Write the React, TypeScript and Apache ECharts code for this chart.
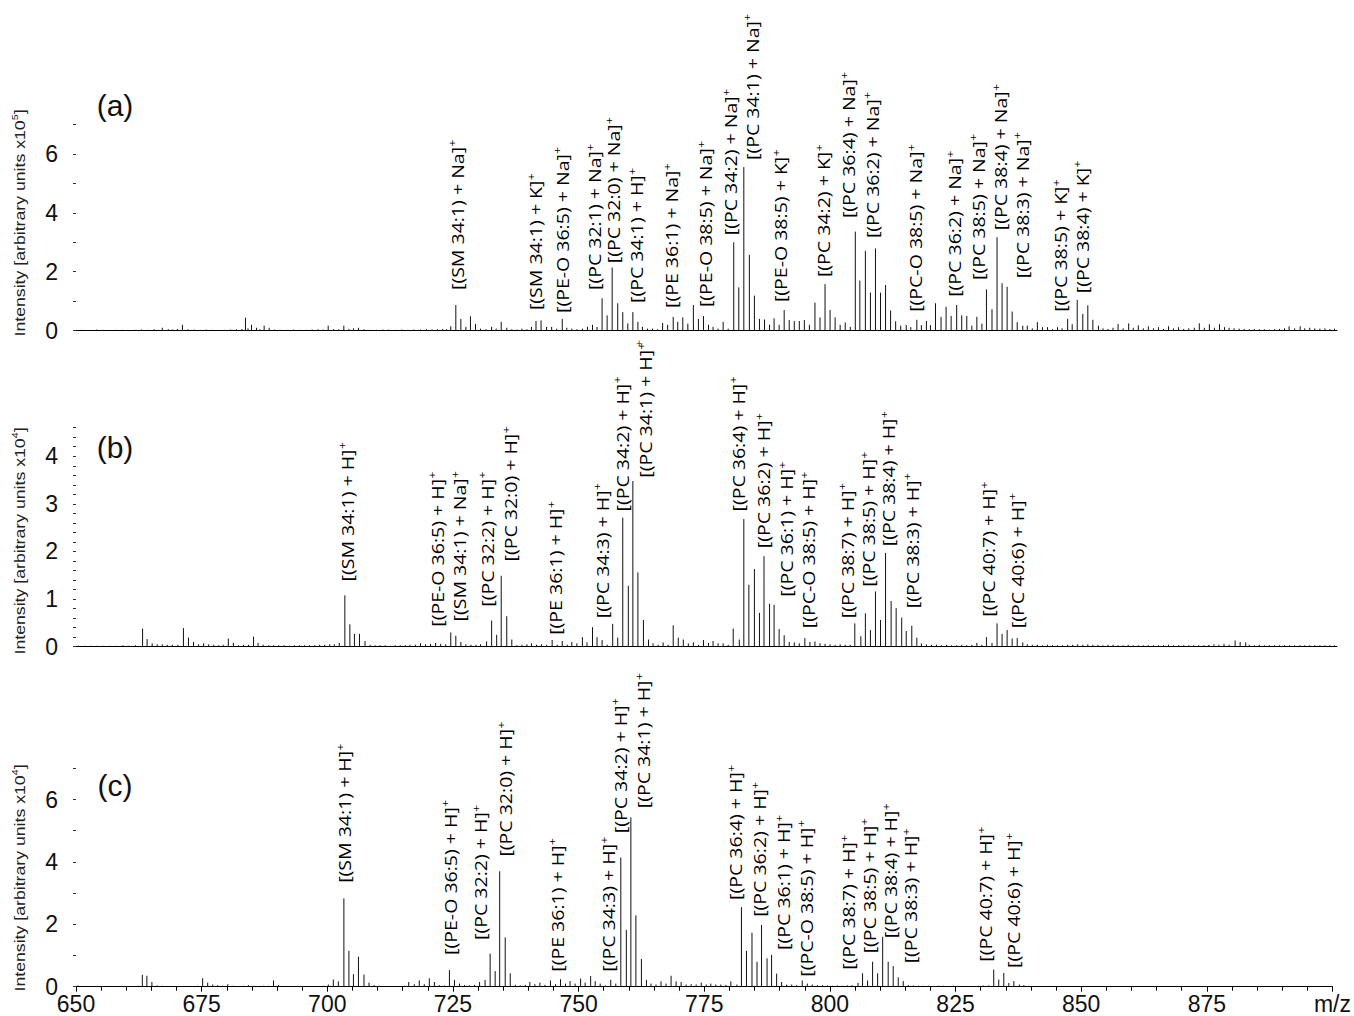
import React, { useEffect, useRef } from "react";
import * as echarts from "echarts";

// ---------- data ----------
const MZ_MIN = 650;
const MZ_MAX = 900;
const MZ_STEP = 25;

// panel (a): [m/z, intensity x10^5]
const peaksA: number[][] = [
  [651.2,0.03],[652.8,0.02],[654.1,0.04],[655.3,0.03],[656.6,0.02],[657.9,0.03],[659.2,0.03],[660.4,0.02],[661.7,0.03],[663.0,0.04],[664.2,0.03],[665.5,0.05],[667.1,0.1],[668.3,0.05],[669.2,0.04],[670.1,0.06],[671.1,0.2],[672.2,0.05],[673.4,0.04],[674.6,0.03],[675.8,0.04],[677.0,0.03],[678.2,0.02],[679.4,0.03],[680.6,0.04],[681.8,0.05],[682.9,0.06],[683.6,0.44],[684.1,0.08],[684.8,0.2],[685.8,0.1],[686.5,0.05],[687.3,0.17],[688.3,0.1],[689.4,0.04],[690.6,0.03],[691.8,0.03],[693.1,0.04],[694.3,0.03],[695.6,0.03],[696.8,0.04],[698.0,0.05],[699.0,0.04],[700.0,0.17],[701.1,0.06],[702.1,0.05],[703.1,0.17],[704.1,0.06],[705.0,0.08],[706.0,0.1],[707.1,0.05],[708.3,0.03],[709.6,0.03],[710.8,0.04],[712.0,0.04],[713.3,0.03],[714.6,0.04],[715.8,0.03],[717.0,0.04],[718.3,0.04],[719.5,0.05],[720.6,0.04],[721.7,0.05],[722.7,0.06],[723.5,0.05],[724.3,0.15],
  [725.3,0.87],[726.3,0.4],[727.3,0.13],[728.2,0.49],[729.2,0.23],[730.2,0.07],[731.3,0.05],[732.4,0.13],[733.3,0.07],[734.3,0.3],[735.4,0.1],[736.4,0.05],[737.4,0.04],[738.4,0.07],[739.4,0.05],[740.3,0.13],[741.2,0.33],[742.2,0.35],[743.3,0.13],[744.3,0.13],[745.3,0.07],[746.4,0.4],[747.3,0.1],[748.3,0.07],[749.3,0.05],[750.4,0.07],[751.4,0.13],[752.4,0.2],[753.3,0.13],[754.3,1.1],[755.3,0.52],[756.3,2.14],[757.4,0.93],[758.4,0.63],[759.4,0.25],[760.4,0.63],[761.4,0.3],[762.3,0.13],[763.3,0.07],[764.3,0.07],[765.3,0.05],[766.3,0.26],[767.3,0.2],[768.4,0.47],[769.3,0.3],[770.3,0.45],[771.3,0.24],[772.4,0.87],[773.4,0.4],[774.4,0.5],[775.4,0.2],[776.3,0.13],[777.3,0.07],[778.3,0.3],[779.3,0.07],[780.4,3.0],[781.4,1.47],[782.4,5.55],[783.5,2.57],[784.5,1.19],[785.5,0.4],[786.5,0.38],[787.5,0.2],[788.4,0.42],[789.4,0.2],[790.4,0.7],[791.4,0.36],[792.4,0.33],[793.4,0.33],[794.4,0.36],[795.4,0.2],[796.5,0.95],[797.5,0.45],[798.5,1.58],[799.5,0.7],[800.5,0.45],[801.5,0.2],[802.5,0.28],[803.5,0.13],[804.5,3.36],[805.4,1.7],[806.5,2.71],[807.5,1.29],[808.5,2.79],[809.5,1.29],[810.5,1.55],[811.5,0.68],[812.5,0.32],[813.5,0.17],[814.6,0.19],[815.5,0.12],[816.7,0.37],[817.6,0.19],[818.6,0.33],[819.4,0.19],[820.4,0.93],[821.5,0.47],[822.5,0.81],[823.5,0.5],[824.6,0.87],[825.6,0.52],[826.6,0.5],[827.6,0.17],[828.6,0.47],[829.6,0.24],[830.5,1.4],[831.6,0.73],[832.6,3.17],[833.6,1.61],[834.6,1.49],[835.6,0.65],[836.6,0.29],[837.7,0.17],[838.6,0.17],[839.6,0.08],[840.6,0.29],[841.6,0.12],[842.6,0.12],[843.6,0.05],[844.6,0.12],[845.5,0.08],[846.6,0.4],[847.5,0.22],[848.5,1.04],[849.6,0.57],[850.6,0.86],[851.6,0.37],[852.7,0.17],
  [853.6,0.08],[854.6,0.06],[855.6,0.1],[856.6,0.23],[857.6,0.08],[858.7,0.25],[859.6,0.1],[860.6,0.18],[861.6,0.08],[862.6,0.15],[863.6,0.08],[864.6,0.12],[865.6,0.06],[866.6,0.15],[867.6,0.08],[868.6,0.12],[869.6,0.06],[870.6,0.08],[871.7,0.1],[872.7,0.25],[873.7,0.1],[874.7,0.22],[875.7,0.1],[876.7,0.22],[877.7,0.12],[878.6,0.1],[879.6,0.08],[880.6,0.07],[881.6,0.06],[882.6,0.05],[883.6,0.06],[884.6,0.05],[885.6,0.05],[886.6,0.04],[887.6,0.05],[888.6,0.06],[889.6,0.08],[890.5,0.15],[891.6,0.08],[892.7,0.15],[893.6,0.08],[894.6,0.1],[895.6,0.08],[896.6,0.07],[897.6,0.08],[898.6,0.06],[899.5,0.07]
];

// panel (b): [m/z, intensity x10^4]
const peaksB: number[][] = [
  [650.5,0.02],[651.7,0.02],[653.0,0.02],[654.2,0.02],[655.5,0.02],[656.8,0.02],[658.0,0.02],[659.3,0.03],[660.5,0.02],[661.8,0.03],[663.2,0.38],[664.1,0.16],[665.1,0.07],[666.1,0.05],[667.1,0.05],[668.1,0.04],[669.1,0.04],[670.2,0.04],[671.3,0.39],[672.3,0.19],[673.3,0.1],[674.3,0.05],[675.3,0.07],[676.3,0.05],[677.3,0.04],[678.3,0.03],[679.2,0.04],[680.2,0.17],[681.2,0.08],[682.2,0.03],[683.2,0.04],[684.2,0.04],[685.2,0.21],[686.1,0.08],[687.1,0.04],[688.2,0.03],[689.2,0.03],[690.2,0.03],[691.3,0.03],[692.3,0.02],[693.3,0.03],[694.3,0.03],[695.3,0.03],[696.3,0.03],[697.3,0.03],[698.3,0.04],[699.3,0.04],[700.3,0.05],[701.2,0.05],[702.2,0.08],
  [703.3,1.08],[704.3,0.47],[705.2,0.27],[706.2,0.27],[707.3,0.12],[708.3,0.04],[709.3,0.03],[710.3,0.03],[711.3,0.03],[712.3,0.02],[713.3,0.03],[714.3,0.03],[715.3,0.03],[716.2,0.04],[717.3,0.04],[718.3,0.07],[719.3,0.05],[720.3,0.06],[721.3,0.08],[722.3,0.06],[723.3,0.05],[724.3,0.3],[725.3,0.23],[726.3,0.1],[727.3,0.05],[728.3,0.04],[729.3,0.04],[730.2,0.05],[731.4,0.11],[732.4,0.55],[733.4,0.25],[734.3,1.49],[735.4,0.64],[736.4,0.15],[737.4,0.03],[738.4,0.04],[739.4,0.05],[740.3,0.07],[741.3,0.04],[742.3,0.05],[743.3,0.04],[744.4,0.14],[745.4,0.04],[746.4,0.12],[747.4,0.04],[748.3,0.1],[749.3,0.07],[750.4,0.2],[751.3,0.09],[752.4,0.41],[753.3,0.2],[754.3,0.14],[755.3,0.04],[756.4,0.48],[757.4,0.19],[758.4,2.71],[759.5,1.28],[760.4,3.48],[761.4,1.56],[762.5,0.56],[763.5,0.15],[764.4,0.07],[765.4,0.04],[766.4,0.09],[767.4,0.04],[768.4,0.45],[769.4,0.19],[770.4,0.15],[771.4,0.07],[772.4,0.09],[773.4,0.04],[774.4,0.14],[775.4,0.08],[776.3,0.12],[777.3,0.07],[778.3,0.07],[779.3,0.04],[780.3,0.38],[781.5,0.15],[782.4,2.68],[783.4,1.3],[784.5,1.63],[785.5,0.71],[786.4,1.9],[787.5,0.9],[788.4,0.88],[789.4,0.37],[790.4,0.24],[791.4,0.1],[792.4,0.09],[793.4,0.07],[794.5,0.18],[795.5,0.1],[796.5,0.11],[797.5,0.07],[798.5,0.06],[799.5,0.05],[800.5,0.04],[801.5,0.05],[802.5,0.04],[803.5,0.04],[804.4,0.49],[805.6,0.22],[806.5,0.7],[807.5,0.35],[808.5,1.16],[809.5,0.56],[810.5,1.97],[811.6,0.96],[812.6,0.81],[813.7,0.61],[814.6,0.33],[815.7,0.44],[816.7,0.19],[817.6,0.07],[818.6,0.05],[819.6,0.04],[820.6,0.04],[821.6,0.03],[822.6,0.04],[823.6,0.03],[824.6,0.03],[825.6,0.04],[826.6,0.03],[827.6,0.04],[828.6,0.08],[829.6,0.04],[830.5,0.2],[831.6,0.08],[832.6,0.49],[833.6,0.27],[834.6,0.35],[835.6,0.17],[836.6,0.18],[837.7,0.09],[838.6,0.05],[839.6,0.04],[840.6,0.04],[841.6,0.03],[842.6,0.04],[843.6,0.03],[844.6,0.03],[845.6,0.03],[846.6,0.04],[847.6,0.04],[848.6,0.05],[849.6,0.04],[850.6,0.05],[851.6,0.04],[852.6,0.04],[853.6,0.03],[854.6,0.04],[855.6,0.04],[856.6,0.03],[857.6,0.03],[858.6,0.04],[859.6,0.03],[860.6,0.03],[861.6,0.03],[862.6,0.03],[863.6,0.03],[864.6,0.03],[865.6,0.03],[866.6,0.04],[867.6,0.03],[868.6,0.03],[869.6,0.03],[870.6,0.03],[871.6,0.03],[872.6,0.03],[873.6,0.03],[874.6,0.04],[875.6,0.05],[876.6,0.04],[877.6,0.06],[878.6,0.04],[879.8,0.13],[880.8,0.1],[881.9,0.09],[882.6,0.04],[883.6,0.03],[884.6,0.04],[885.6,0.03],[886.6,0.03],[887.6,0.03],[888.6,0.03],[889.6,0.03],[890.6,0.03],[891.6,0.03],[892.6,0.03],[893.6,0.03],[894.6,0.03],[895.6,0.03],[896.6,0.03],[897.6,0.03],[898.6,0.03],[899.5,0.03]
];

// panel (c): [m/z, intensity x10^4]
const peaksC: number[][] = [
  [650.4,0.04],[651.6,0.02],[652.8,0.02],[654.0,0.02],[655.3,0.02],[656.5,0.02],[657.8,0.02],[659.0,0.02],[660.3,0.02],[661.5,0.02],[662.5,0.03],[663.2,0.38],[664.1,0.35],[665.1,0.15],[666.1,0.04],[667.2,0.03],[668.4,0.02],[669.6,0.02],[670.8,0.02],[672.0,0.02],[673.2,0.02],[674.2,0.03],[675.2,0.27],[676.2,0.13],[677.2,0.07],[678.2,0.05],[679.2,0.03],[680.2,0.08],[681.2,0.03],[682.3,0.02],[683.3,0.03],[684.3,0.05],[685.3,0.02],[686.3,0.02],[687.3,0.03],[688.3,0.03],[689.3,0.2],[690.3,0.05],[691.3,0.02],[692.3,0.02],[693.3,0.02],[694.3,0.02],[695.3,0.02],[696.3,0.02],[697.3,0.02],[698.3,0.02],[699.3,0.03],[700.2,0.07],[701.2,0.23],[702.2,0.17],
  [703.3,2.83],[704.3,1.15],[705.2,0.4],[706.2,0.96],[707.3,0.39],[708.3,0.13],[709.3,0.05],[710.3,0.03],[711.3,0.02],[712.3,0.02],[713.3,0.02],[714.3,0.02],[715.3,0.03],[716.2,0.15],[717.3,0.08],[718.3,0.2],[719.3,0.08],[720.3,0.27],[721.3,0.15],[722.3,0.05],[723.3,0.04],[724.3,0.53],[725.3,0.22],[726.3,0.1],[727.3,0.05],[728.3,0.04],[729.3,0.06],[730.3,0.15],[731.4,0.22],[732.4,1.06],[733.4,0.5],[734.3,3.7],[735.4,1.58],[736.4,0.43],[737.4,0.06],[738.4,0.04],[739.4,0.06],[740.3,0.15],[741.3,0.08],[742.3,0.13],[743.3,0.06],[744.4,0.2],[745.4,0.08],[746.4,0.24],[747.4,0.1],[748.3,0.18],[749.3,0.1],[750.4,0.26],[751.3,0.13],[752.4,0.34],[753.3,0.18],[754.3,0.1],[755.3,0.04],[756.4,0.22],[757.4,0.1],[758.4,4.14],[759.5,1.82],[760.4,5.43],[761.4,2.29],[762.5,0.89],[763.5,0.22],[764.4,0.1],[765.4,0.07],[766.4,0.17],[767.4,0.1],[768.4,0.35],[769.4,0.17],[770.4,0.15],[771.4,0.07],[772.4,0.08],[773.4,0.07],[774.4,0.13],[775.4,0.07],[776.3,0.1],[777.3,0.07],[778.3,0.07],[779.3,0.06],[780.3,0.17],[781.5,0.07],[782.4,2.55],[783.4,1.15],[784.5,1.73],[785.5,0.8],[786.4,1.98],[787.5,0.91],[788.4,1.02],[789.4,0.42],[790.4,0.15],[791.4,0.07],[792.4,0.07],[793.4,0.05],[794.5,0.2],[795.5,0.1],[796.5,0.07],[797.5,0.05],[798.5,0.05],[799.5,0.04],[800.5,0.03],[801.5,0.04],[802.5,0.03],[803.5,0.04],[804.4,0.05],[805.6,0.12],[806.5,0.43],[807.5,0.2],[808.5,0.8],[809.5,0.43],[810.5,1.6],[811.6,0.8],[812.6,0.66],[813.6,0.3],[814.6,0.18],[815.6,0.05],[816.6,0.04],[817.6,0.03],[818.6,0.03],[819.6,0.03],[820.6,0.02],[821.6,0.03],[822.6,0.03],[823.6,0.02],[824.6,0.03],[825.6,0.02],[826.6,0.02],[827.6,0.02],[828.6,0.02],[829.6,0.03],[830.5,0.04],[831.6,0.04],[832.6,0.55],[833.6,0.23],[834.6,0.44],[835.6,0.12],[836.6,0.18],[837.7,0.07],[838.6,0.05],[839.6,0.03],[840.6,0.02],[842.6,0.02],[845.6,0.02],[848.6,0.02],[851.6,0.02],[854.6,0.02],[857.6,0.02],[860.6,0.02],[864.6,0.02],[868.6,0.02],[872.6,0.02],[876.6,0.02],[880.6,0.02],[884.6,0.02],[888.6,0.02],[892.6,0.02],[896.6,0.02]
];

// annotation texts (each followed by a superscript "+") and their anchors [m/z, intensity]
const namesA = ["[(SM 34:1) + Na]","[(SM 34:1) + K]","[(PE-O 36:5) + Na]","[(PC 32:1) + Na]","[(PC 32:0) + Na]","[(PC 34:1) + H]","[(PE 36:1) + Na]","[(PE-O 38:5) + Na]","[(PC 34:2) + Na]","[(PC 34:1) + Na]","[(PE-O 38:5) + K]","[(PC 34:2) + K]","[(PC 36:4) + Na]","[(PC 36:2) + Na]","[(PC-O 38:5) + Na]","[(PC 36:2) + Na]","[(PC 38:5) + Na]","[(PC 38:4) + Na]","[(PC 38:3) + Na]","[(PC 38:5) + K]","[(PC 38:4) + K]"];
const labelMzA = [725.48,741.0,746.29,752.7,756.52,761.02,767.96,774.7,779.66,783.96,789.57,798.16,803.11,807.75,816.34,824.07,828.77,833.19,837.49,845.09,849.39];
const labelYA = [1.38,0.7,0.6,1.38,2.29,0.94,0.77,0.8,3.24,5.79,0.97,1.82,3.82,3.14,0.64,1.15,1.72,3.41,1.78,0.64,1.27];

const namesB = ["[(SM 34:1) + H]","[(PE-O 36:5) + H]","[(SM 34:1) + Na]","[(PC 32:2) + H]","[(PC 32:0) + H]","[(PE 36:1) + H]","[(PC 34:3) + H]","[(PC 34:2) + H]","[(PC 34:1) + H]","[(PC 36:4) + H]","[(PC 36:2) + H]","[(PC 36:1) + H]","[(PC-O 38:5) + H]","[(PC 38:7) + H]","[(PC 38:5) + H]","[(PC 38:4) + H]","[(PC 38:3) + H]","[(PC 40:7) + H]","[(PC 40:6) + H]"];
const labelMzB = [703.67,721.51,725.93,731.42,736.04,744.97,754.22,758.19,762.81,781.19,786.27,790.77,795.19,802.8,807.08,811.05,815.67,830.87,836.5];
const labelYB = [1.37,0.42,0.53,0.84,1.79,0.25,0.6,2.84,3.55,2.84,2.07,1.05,0.39,0.6,1.26,2.11,0.81,0.63,0.39];

const namesC = ["[(SM 34:1) + H]","[(PE-O 36:5) + H]","[(PC 32:2) + H]","[(PC 32:0) + H]","[(PE 36:1) + H]","[(PC 34:3) + H]","[(PC 34:2) + H]","[(PC 34:1) + H]","[(PC 36:4) + H]","[(PC 36:2) + H]","[(PC 36:1) + H]","[(PC-O 38:5) + H]","[(PC 38:7) + H]","[(PC 38:5) + H]","[(PC 38:4) + H]","[(PC 38:3) + H]","[(PC 40:7) + H]","[(PC 40:6) + H]"];
const labelMzC = [703.33,724.35,730.43,735.39,745.62,755.87,758.19,762.81,781.19,785.93,790.77,795.19,803.59,807.75,812.03,816.0,830.87,836.5];
const labelYC = [3.33,1.02,1.5,4.17,0.48,0.48,4.92,5.72,2.78,2.24,1.18,0.32,0.54,1.07,1.55,0.75,0.8,0.6];

const yMax = [7, 4.6, 7];
const yStep = [1, 0.2, 1];
const panelTags = ["(a)", "(b)", "(c)"];
const yExponent = ["5", "4", "4"];

// ---------- chart ----------
const LABEL_FONT = "'Open Sans', 'Noto Sans', sans-serif";
const AXIS_FONT = "'Liberation Sans', Arial, sans-serif";

function stickSeries(data: number[][], idx: number) {
  return {
    type: "custom",
    xAxisIndex: idx,
    yAxisIndex: idx,
    clip: false,
    silent: true,
    data,
    encode: { x: 0, y: 1 },
    renderItem: (params: any, api: any) => {
      const mz = api.value(0);
      const v = api.value(1);
      const p0 = api.coord([mz, 0]);
      const p1 = api.coord([mz, v]);
      return {
        type: "line",
        shape: { x1: p0[0], y1: p0[1], x2: p1[0], y2: p1[1] },
        style: { stroke: "#111", lineWidth: 1 },
      };
    },
  };
}

function labelSeries(names: string[], mzs: number[], ys: number[], idx: number) {
  const data = mzs.map((m, i) => [m, ys[i]]);
  return {
    type: "custom",
    xAxisIndex: idx,
    yAxisIndex: idx,
    clip: false,
    silent: true,
    data,
    encode: { x: 0, y: 1 },
    renderItem: (params: any, api: any) => {
      const p = api.coord([api.value(0), api.value(1)]);
      return {
        type: "text",
        x: p[0],
        y: p[1],
        rotation: Math.PI / 2,
        scaleX: 1.15,
        style: {
          text: "{m|" + names[params.dataIndex] + "}{s|+}",
          fill: "#000",
          align: "left",
          verticalAlign: "middle",
          rich: {
            m: { fontFamily: LABEL_FONT, fontSize: 17, lineHeight: 21, fill: "#000", verticalAlign: "middle" },
            s: { fontFamily: LABEL_FONT, fontSize: 11, lineHeight: 11, fill: "#000", verticalAlign: "top" },
          },
        },
      };
    },
  };
}

export default function App() {
  const ref = useRef<HTMLDivElement>(null);

  useEffect(() => {
    document.body.style.margin = "0";
    if (!ref.current) return;
    const chart = echarts.init(ref.current, undefined, { renderer: "svg" });

    const grids = [
      { left: 76, right: 17, top: 124.3, height: 206.4 },
      { left: 76, right: 17, top: 427.7, height: 219 },
      { left: 76, right: 17, top: 768.3, height: 218.4 },
    ];

    const xAxes = grids.map((_, i) => ({
      type: "value",
      gridIndex: i,
      min: MZ_MIN,
      max: MZ_MAX,
      interval: MZ_STEP,
      axisLine: { show: true, onZero: false, lineStyle: { color: "#000", width: 1 } },
      axisTick: { show: i === 2, length: 5, lineStyle: { color: "#000" } },
      minorTick: { show: i === 2, splitNumber: 5, length: 4, lineStyle: { color: "#000" } },
      splitLine: { show: false },
      axisLabel: {
        show: i === 2,
        fontFamily: AXIS_FONT,
        fontSize: 23,
        color: "#111",
        margin: 6,
        formatter: (v: number) => (v === MZ_MAX ? "m/z" : String(v)),
      },
    }));

    const yAxes = grids.map((_, i) => ({
      type: "value",
      gridIndex: i,
      min: 0,
      max: yMax[i],
      interval: yStep[i],
      axisLine: { show: false },
      axisTick: { show: true, length: 3, inside: false, lineStyle: { color: "#333" } },
      splitLine: { show: false },
      axisLabel: {
        fontFamily: AXIS_FONT,
        fontSize: 23,
        color: "#111",
        margin: 18,
        formatter: (v: number) => {
          const r = Math.round(v);
          if (Math.abs(v - r) > 1e-6) return "";
          if (i !== 1 && r % 2 !== 0) return "";
          return String(r);
        },
      },
    }));

    const titleCenters = [223, 541, 878];
    const tagCenters = [105, 447, 785];
    const graphic: any[] = [];
    titleCenters.forEach((cy, i) => {
      graphic.push({
        type: "text",
        x: 20,
        y: cy,
        rotation: Math.PI / 2,
        scaleX: 1.18,
        silent: true,
        style: {
          text: "{m|Intensity [arbitrary units x10}{s|" + yExponent[i] + "}{m|]}",
          align: "center",
          verticalAlign: "middle",
          fill: "#222",
          rich: {
            m: { fontFamily: AXIS_FONT, fontSize: 15, lineHeight: 19, fill: "#222", verticalAlign: "middle" },
            s: { fontFamily: AXIS_FONT, fontSize: 9, lineHeight: 9, fill: "#222", verticalAlign: "top" },
          },
        },
      });
    });
    tagCenters.forEach((cy, i) => {
      graphic.push({
        type: "text",
        x: 115,
        y: cy,
        silent: true,
        style: {
          text: panelTags[i],
          fontFamily: AXIS_FONT,
          fontSize: 30,
          fill: "#111",
          align: "center",
          verticalAlign: "middle",
        },
      });
    });
    graphic.push({
      type: "text",
      x: 639,
      y: 343,
      silent: true,
      style: { text: "+", fontFamily: LABEL_FONT, fontSize: 10, fill: "#111", align: "center", verticalAlign: "middle" },
    });

    chart.setOption({
      animation: false,
      backgroundColor: "#fff",
      grid: grids,
      xAxis: xAxes,
      yAxis: yAxes,
      graphic,
      series: [
        stickSeries(peaksA, 0),
        stickSeries(peaksB, 1),
        stickSeries(peaksC, 2),
        labelSeries(namesA, labelMzA, labelYA, 0),
        labelSeries(namesB, labelMzB, labelYB, 1),
        labelSeries(namesC, labelMzC, labelYC, 2),
      ],
    });

    return () => chart.dispose();
  }, []);

  return <div ref={ref} style={{ width: 1354, height: 1016 }} />;
}
